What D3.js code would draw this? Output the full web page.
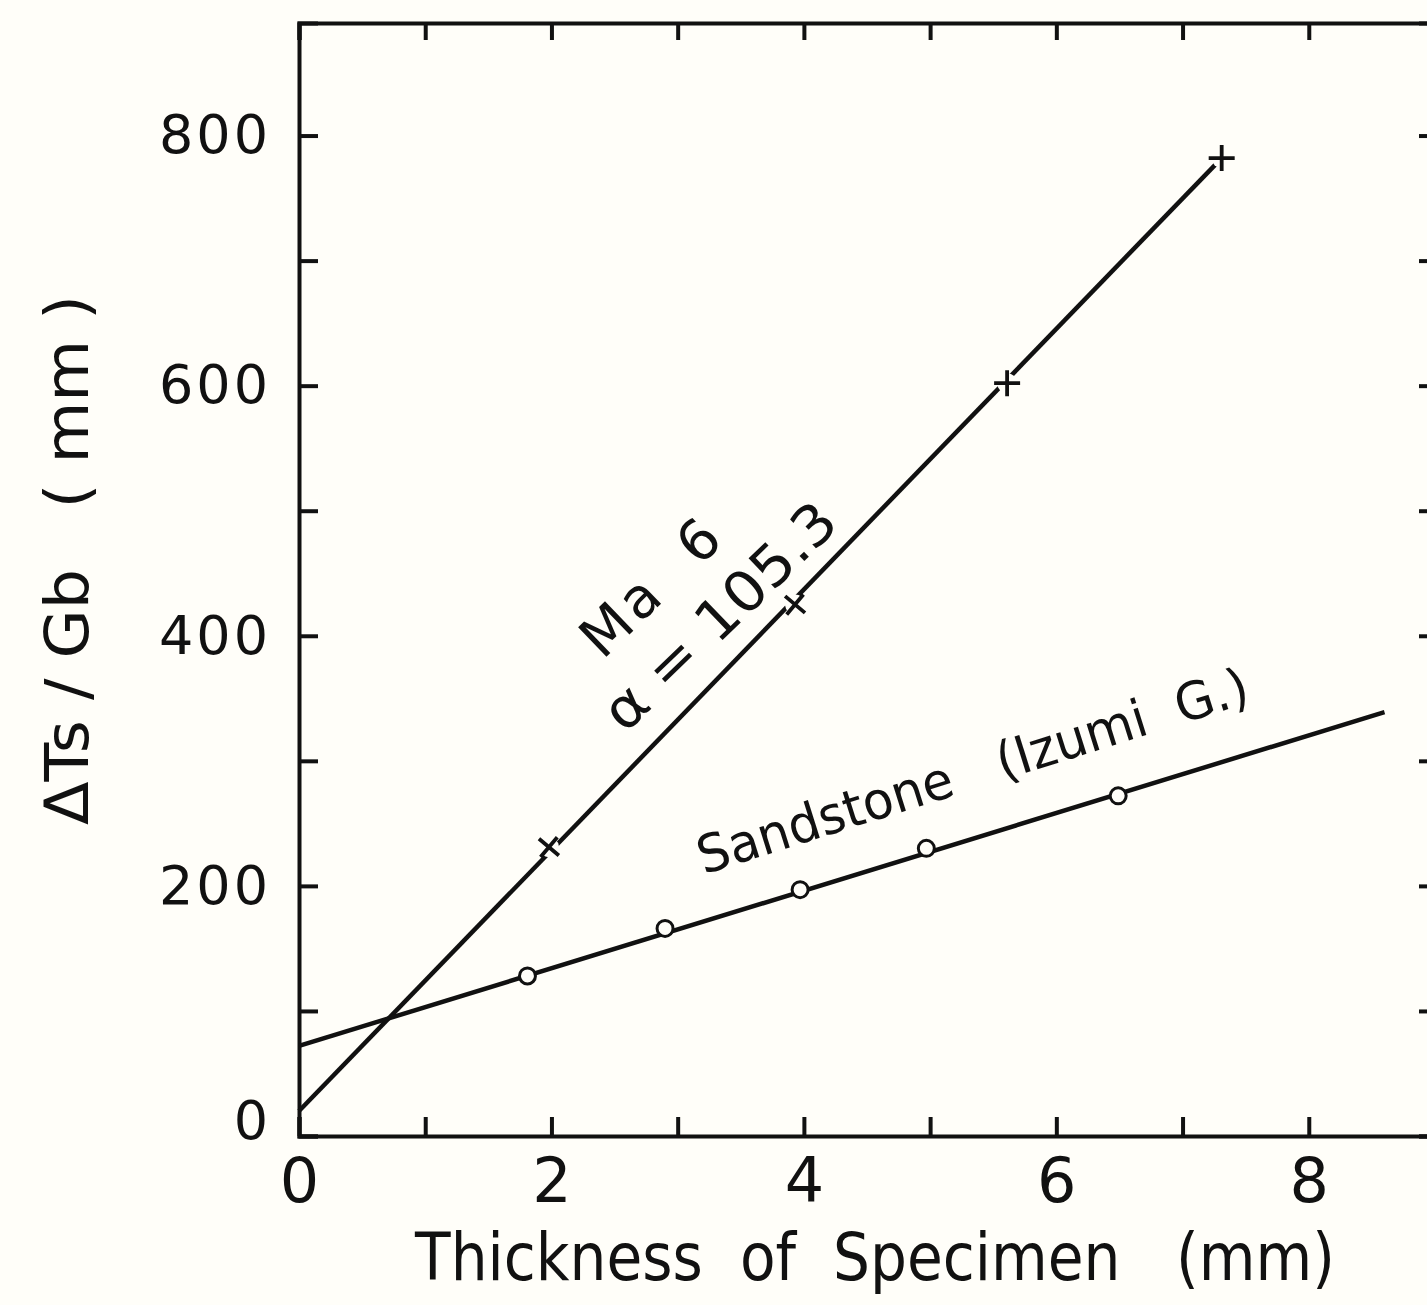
<!DOCTYPE html>
<html>
<head>
<meta charset="utf-8">
<script src="https://cdn.jsdelivr.net/npm/d3@7"></script>
<style>
    body { margin: 0; background: #fffef9; }
    svg { display: block; }
    .frame text { font-family: "DejaVu Sans", sans-serif; fill: #111; }
    .label { font-family: "DejaVu Sans", sans-serif; fill: #111; white-space: pre; }
</style>
</head>
<body>
<div id="chart"></div>
<script>

var w = 1427,
    h = 1305;

// Ma 6 measurements (crosses)
var ma6_x = [1.98, 3.93, 5.61, 7.31],
    ma6_y = [231, 425, 602, 782];

// Ma 6 fitted line, end points
var ma6_fit_x = [0, 7.31],
    ma6_fit_y = [20, 782];

// sandstone measurements (circles)
var sand_x = [1.81, 2.90, 3.97, 4.97, 6.49],
    sand_y = [128, 166, 197, 230, 272];

// sandstone fitted line, end points
var sand_fit_x = [0, 8.6],
    sand_fit_y = [72, 339];

// tick values
var x_ticks = [0, 1, 2, 3, 4, 5, 6, 7, 8, 9],
    y_ticks = [0, 100, 200, 300, 400, 500, 600, 700, 800];

var svg = d3.select("#chart").append("svg")
    .attr("width", w)
    .attr("height", h);

// scales
var x = d3.scaleLinear()
    .domain([0, 9])
    .range([299, 1435]);

var y = d3.scaleLinear()
    .domain([0, 890])
    .range([1136, 23]);

var frame = svg.append("g")
    .attr("class", "frame");

// bottom axis, ticks inward, labels on even values
var xaxis = d3.axisBottom(x)
    .tickValues(x_ticks)
    .tickSize(-19)
    .tickPadding(22)
    .tickFormat(function(d) { return (d % 2 === 0 && d < 9) ? d : ""; });

var xg = frame.append("g")
    .attr("transform", "translate(0," + y(0) + ")")
    .call(xaxis);

// left axis
var yaxis = d3.axisLeft(y)
    .tickValues(y_ticks)
    .tickSize(-19)
    .tickPadding(28)
    .tickFormat(function(d) { return d % 200 === 0 ? d : ""; });

var yg = frame.append("g")
    .attr("transform", "translate(" + x(0) + ",0)")
    .call(yaxis);

// top and right axes, no labels
frame.append("g")
    .attr("transform", "translate(0," + y(890) + ")")
    .call(d3.axisTop(x).tickValues(x_ticks).tickSize(-17).tickFormat(""));

frame.append("g")
    .attr("transform", "translate(" + x(9) + ",0)")
    .call(d3.axisRight(y).tickValues(y_ticks).tickSize(-16).tickFormat(""));

frame.selectAll("path.domain, line")
    .attr("stroke", "#111")
    .attr("stroke-width", 4);

yg.selectAll("text")
    .attr("font-size", 54)
    .style("letter-spacing", "3px");

xg.selectAll("text")
    .attr("font-size", 62);

// the "0" on the y axis sits a little above the corner
yg.selectAll(".tick text")
    .filter(function(d) { return d === 0; })
    .attr("dy", "0.05em");

// fitted lines
var line = d3.line()
    .x(function(d) { return x(d[0]); })
    .y(function(d) { return y(d[1]); });

svg.append("path")
    .datum(d3.zip(ma6_fit_x, ma6_fit_y))
    .attr("d", line)
    .attr("fill", "none")
    .attr("stroke", "#111")
    .attr("stroke-width", 4.5);

svg.append("path")
    .datum(d3.zip(sand_fit_x, sand_fit_y))
    .attr("d", line)
    .attr("fill", "none")
    .attr("stroke", "#111")
    .attr("stroke-width", 4.5);

// crosses, with a small gap cut out of the line
var crosses = svg.append("g")
    .selectAll("g")
    .data(d3.zip(ma6_x, ma6_y))
    .enter().append("g")
    .attr("transform", function(d, i) {
        return "translate(" + x(d[0]) + "," + y(d[1]) + ") rotate(" + (i < 2 ? 40 : 0) + ")";
    });

crosses.append("circle")
    .attr("r", 10)
    .attr("fill", "#fffef9");

crosses.append("path")
    .attr("d", "M-13,0H13M0,-13V13")
    .attr("stroke", "#111")
    .attr("stroke-width", 3.8);

// circles
svg.append("g")
    .selectAll("circle")
    .data(d3.zip(sand_x, sand_y))
    .enter().append("circle")
    .attr("cx", function(d) { return x(d[0]); })
    .attr("cy", function(d) { return y(d[1]); })
    .attr("r", 8)
    .attr("fill", "#fffef9")
    .attr("stroke", "#111")
    .attr("stroke-width", 3);

// x axis title, squeezed horizontally to the width of the original
var xtitle_g = svg.append("g");

var xtitle = xtitle_g.append("text")
    .attr("class", "label")
    .attr("text-anchor", "middle")
    .attr("font-size", 66)
    .text("Thickness  of  Specimen   (mm)");

var squeeze = 920 / xtitle.node().getComputedTextLength();
xtitle_g.attr("transform", "translate(875,1280) scale(" + squeeze + ",1)");

svg.append("text")
    .attr("class", "label")
    .attr("transform", "translate(88,560) rotate(-90)")
    .attr("text-anchor", "middle")
    .attr("font-size", 60)
    .attr("textLength", 530)
    .attr("lengthAdjust", "spacingAndGlyphs")
    .text("\u0394Ts / Gb   ( mm )");

// line labels
svg.append("text")
    .attr("class", "label")
    .attr("transform", "translate(665,600) rotate(-44)")
    .attr("text-anchor", "middle")
    .attr("font-size", 56)
    .style("letter-spacing", "4px")
    .text("Ma  6");

svg.append("text")
    .attr("class", "label")
    .attr("transform", "translate(733,630) rotate(-44)")
    .attr("text-anchor", "middle")
    .attr("font-size", 56)
    .attr("textLength", 300)
    .attr("lengthAdjust", "spacingAndGlyphs")
    .text("\u03b1 = 105.3");

svg.append("text")
    .attr("class", "label")
    .attr("transform", "translate(978,788) rotate(-17.5)")
    .attr("text-anchor", "middle")
    .attr("font-size", 52)
    .attr("textLength", 575)
    .attr("lengthAdjust", "spacingAndGlyphs")
    .text("Sandstone   (Izumi  G.)");

</script>
</body>
</html>
